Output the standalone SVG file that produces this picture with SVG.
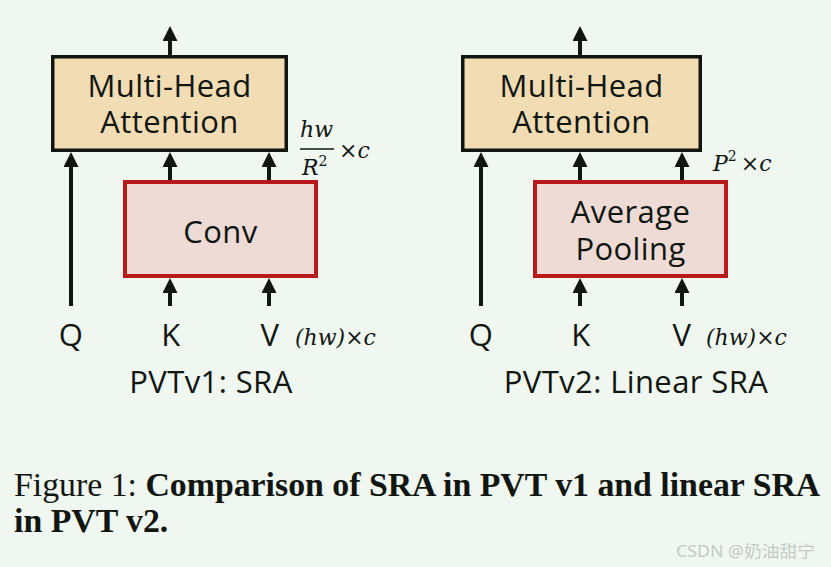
<svg xmlns="http://www.w3.org/2000/svg" width="831" height="567" viewBox="0 0 831 567">
<defs>
<marker id="ah" viewBox="0 0 15 15" refX="5" refY="7.5" markerWidth="15" markerHeight="15" markerUnits="userSpaceOnUse" orient="auto">
<path d="M0,0 L15,7.5 L0,15 z" fill="#111611"/>
</marker>
<style>
.mha{fill:#f1dcb4;stroke:#111611;stroke-width:3.5}
.red{fill:#eedbd5;stroke:#b8191a;stroke-width:4}
.lbl{font-family:"Open Sans","Noto Sans",sans-serif;font-size:31px;fill:#111611;text-anchor:middle;letter-spacing:0.4px}
.math{font-family:"DejaVu Serif",serif;font-style:italic;font-size:22px;fill:#111611}
.cap{font-family:"Liberation Serif","Times New Roman",serif;font-size:33.8px;fill:#111611}
.arr{stroke:#111611;stroke-width:4;fill:none;marker-end:url(#ah)}
</style>
</defs>
<rect width="831" height="567" fill="#f0f6f0"/>

<g id="connectors">
<line class="arr" x1="170" y1="55" x2="170" y2="36"/>
<line class="arr" x1="71" y1="306" x2="71" y2="162"/>
<line class="arr" x1="170" y1="180" x2="170" y2="162"/>
<line class="arr" x1="269" y1="180" x2="269" y2="162"/>
<line class="arr" x1="170" y1="306" x2="170" y2="288"/>
<line class="arr" x1="269" y1="306" x2="269" y2="288"/>

<line class="arr" x1="580" y1="55" x2="580" y2="36"/>
<line class="arr" x1="481" y1="306" x2="481" y2="162"/>
<line class="arr" x1="580" y1="180" x2="580" y2="162"/>
<line class="arr" x1="682" y1="180" x2="682" y2="162"/>
<line class="arr" x1="580" y1="306" x2="580" y2="288"/>
<line class="arr" x1="682" y1="306" x2="682" y2="288"/>
</g>

<g id="mha1">
<rect class="mha" x="52.75" y="56.75" width="233.5" height="93.5"/>
<text class="lbl"><tspan x="169.5" y="97">Multi-Head</tspan><tspan x="169.5" y="133">Attention</tspan></text>
</g>
<g id="conv">
<rect class="red" x="125" y="182" width="191" height="94"/>
<text class="lbl" x="220.5" y="243">Conv</text>
</g>

<g id="mha2">
<rect class="mha" x="462.75" y="56.75" width="237.5" height="93.5"/>
<text class="lbl"><tspan x="581.5" y="97">Multi-Head</tspan><tspan x="581.5" y="133">Attention</tspan></text>
</g>
<g id="pool">
<rect class="red" x="535" y="182" width="191" height="94"/>
<text class="lbl"><tspan x="630.5" y="223">Average</tspan><tspan x="630.5" y="260">Pooling</tspan></text>
</g>

<g id="labels1">
<text class="lbl" x="71" y="346">Q</text>
<text class="lbl" x="171" y="346">K</text>
<text class="lbl" x="270" y="346">V</text>
<text class="math" x="295" y="345">(hw)<tspan font-style="normal">×</tspan>c</text>
<text class="lbl" x="211" y="393">PVTv1: SRA</text>
<text class="math" x="300" y="137">hw</text>
<line x1="300" y1="149" x2="334" y2="149" stroke="#111611" stroke-width="1.5"/>
<text class="math" x="302" y="175">R<tspan font-style="normal" font-size="14" dy="-9">2</tspan></text>
<text class="math" x="339" y="158"><tspan font-style="normal">×</tspan>c</text>
</g>

<g id="labels2">
<text class="lbl" x="481" y="346">Q</text>
<text class="lbl" x="581" y="346">K</text>
<text class="lbl" x="682" y="346">V</text>
<text class="math" x="706" y="345">(hw)<tspan font-style="normal">×</tspan>c</text>
<text class="lbl" x="636" y="393">PVTv2: Linear SRA</text>
<text class="math" x="713" y="171">P<tspan font-style="normal" font-size="14" dy="-10">2</tspan><tspan dy="10" dx="4" font-style="normal">×</tspan>c</text>
</g>

<g id="caption">
<text class="cap" x="14" y="496">Figure 1: <tspan font-weight="bold">Comparison of SRA in PVT v1 and linear SRA</tspan></text>
<text class="cap" x="14" y="532" font-weight="bold">in PVT v2.</text>
<text x="676" y="557" font-family="'Noto Sans','Noto Sans CJK SC',sans-serif" font-size="16" fill="#c3cbc3" textLength="139" lengthAdjust="spacingAndGlyphs">CSDN @奶油甜宁</text>
</g>
</svg>
